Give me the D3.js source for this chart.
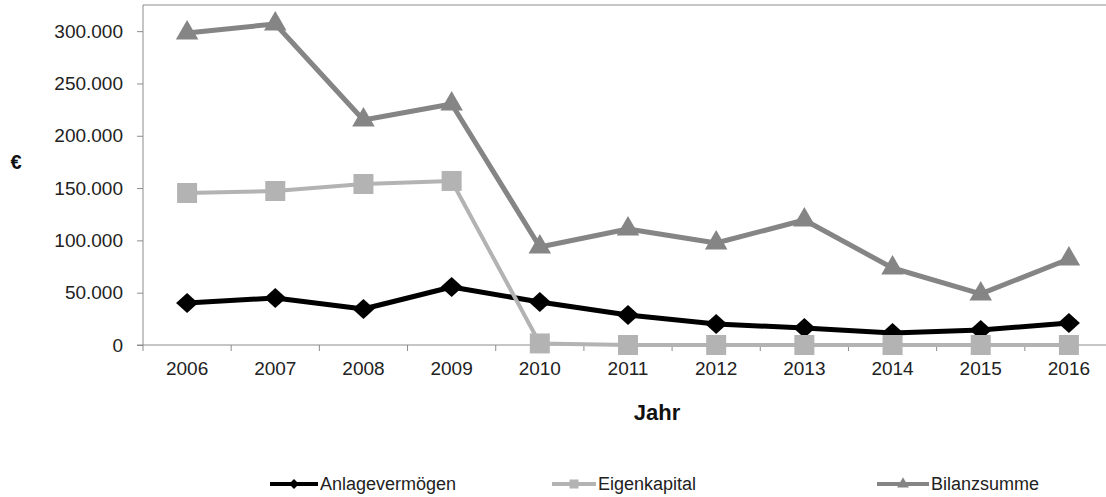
<!DOCTYPE html>
<html>
<head>
<meta charset="utf-8">
<script src="https://cdn.jsdelivr.net/npm/d3@7"></script>
<style>
  body { margin: 0; background: #fff; }
  svg { display: block; font-family: "Liberation Sans", Arial, sans-serif; }
</style>
</head>
<body>
<svg id="chart" width="1106" height="497"></svg>
<script>
// data
const years = ['2006', '2007', '2008', '2009', '2010', '2011', '2012', '2013', '2014', '2015', '2016'];
const anlagevermoegen = [40200, 44900, 34400, 55400, 41100, 28700, 20100, 16300, 11500, 14300, 21000];
const eigenkapital = [145300, 147200, 153900, 156800, 1500, 0, 0, 0, 0, 0, 0];
const bilanzsumme = [298300, 306900, 215100, 230400, 93700, 110900, 97500, 119500, 73600, 48800, 82200];
const yTicks = [0, 50000, 100000, 150000, 200000, 250000, 300000];
const seriesNames = ['Anlagevermögen', 'Eigenkapital', 'Bilanzsumme'];

const svg = d3.select('#chart');

// plot area
const plotLeft = 143, plotRight = 1113, plotTop = 5, plotBottom = 345;

const x = d3.scaleBand()
    .domain(years)
    .range([plotLeft, plotRight])
    .paddingInner(0)
    .paddingOuter(0);
const cx = d => x(d) + x.bandwidth() / 2;

const y = d3.scaleLinear()
    .domain([0, 325000])
    .range([plotBottom, plotTop]);

const de = d3.formatLocale({ decimal: ',', thousands: '.', grouping: [3], currency: ['', ' €'] });
const fmt = de.format(',.0f');

const axisColor = '#8c8c8c';

// top border of the plot frame
svg.append('line')
    .attr('x1', plotLeft).attr('x2', plotRight)
    .attr('y1', plotTop).attr('y2', plotTop)
    .attr('stroke', axisColor).attr('stroke-width', 1);

// y axis
const yAxis = d3.axisLeft(y)
    .tickValues(yTicks)
    .tickFormat(fmt)
    .tickSize(6)
    .tickPadding(14);

const gy = svg.append('g')
    .attr('transform', `translate(${plotLeft},0)`)
    .call(yAxis);
gy.select('.domain').attr('stroke', axisColor).attr('d', `M0,${plotTop}V${plotBottom}`);
gy.selectAll('.tick line').attr('stroke', axisColor);
gy.selectAll('.tick text')
    .attr('fill', '#222')
    .style('font-size', '19px')
    .style('font-family', '"Liberation Sans", Arial, sans-serif');

// x axis (ticks between categories)
const gx = svg.append('g');
gx.append('line')
    .attr('x1', plotLeft - 6).attr('x2', plotRight)
    .attr('y1', y(0)).attr('y2', y(0))
    .attr('stroke', axisColor);
gx.selectAll('.xtick')
    .data(years.concat(['end']))
    .join('line')
    .attr('class', 'xtick')
    .attr('x1', d => d === 'end' ? plotRight : x(d))
    .attr('x2', d => d === 'end' ? plotRight : x(d))
    .attr('y1', y(0)).attr('y2', y(0) + 6)
    .attr('stroke', axisColor);
gx.selectAll('.xlabel')
    .data(years)
    .join('text')
    .attr('class', 'xlabel')
    .attr('x', cx)
    .attr('y', y(0) + 30)
    .attr('text-anchor', 'middle')
    .attr('fill', '#222')
    .style('font-size', '19px')
    .text(d => d);

// axis titles
svg.append('text')
    .attr('x', 657).attr('y', 420)
    .attr('text-anchor', 'middle')
    .attr('font-weight', 'bold')
    .attr('fill', '#111')
    .style('font-size', '22px')
    .text('Jahr');

svg.append('text')
    .attr('x', 16).attr('y', 169)
    .attr('text-anchor', 'middle')
    .attr('font-weight', 'bold')
    .attr('fill', '#111')
    .style('font-size', '20px')
    .text('€');

// series
const diamond = (w, h) => `M0,${-h}L${w},0L0,${h}L${-w},0Z`;
const series = [
    { name: seriesNames[0], values: anlagevermoegen, color: '#000000', width: 5,
      marker: diamond(11, 10), legendMarker: diamond(5, 5) },
    { name: seriesNames[1], values: eigenkapital, color: '#b3b3b3', width: 4,
      marker: d3.symbol(d3.symbolSquare, 400)(), legendMarker: d3.symbol(d3.symbolSquare, 81)() },
    { name: seriesNames[2], values: bilanzsumme, color: '#858585', width: 5,
      marker: d3.symbol(d3.symbolTriangle, 220)(), legendMarker: d3.symbol(d3.symbolTriangle, 60)() }
];

const line = d3.line()
    .x((d, i) => cx(years[i]))
    .y(d => y(d));

series.forEach(s => {
    const g = svg.append('g');
    g.append('path')
        .datum(s.values)
        .attr('d', line)
        .attr('fill', 'none')
        .attr('stroke', s.color)
        .attr('stroke-width', s.width)
        .attr('stroke-linejoin', 'round');
    g.selectAll('path.marker')
        .data(s.values)
        .join('path')
        .attr('class', 'marker')
        .attr('d', s.marker)
        .attr('transform', (d, i) => `translate(${cx(years[i])},${y(d)})`)
        .attr('fill', s.color);
});

// legend
const legendX = [270, 552, 877];
const legendLen = [48, 44, 52];
const legendY = 484;
series.forEach((s, i) => {
    const g = svg.append('g').attr('transform', `translate(${legendX[i]},${legendY})`);
    g.append('line')
        .attr('x1', 0).attr('x2', legendLen[i])
        .attr('y1', 0).attr('y2', 0)
        .attr('stroke', s.color)
        .attr('stroke-width', 4);
    g.append('path')
        .attr('d', s.legendMarker)
        .attr('transform', `translate(${legendLen[i] / 2},0)`)
        .attr('fill', s.color);
    g.append('text')
        .attr('x', legendLen[i] + 2)
        .attr('y', 0)
        .attr('dy', '0.35em')
        .attr('fill', '#222')
        .style('font-size', '18px')
        .text(s.name);
});
</script>
</body>
</html>
